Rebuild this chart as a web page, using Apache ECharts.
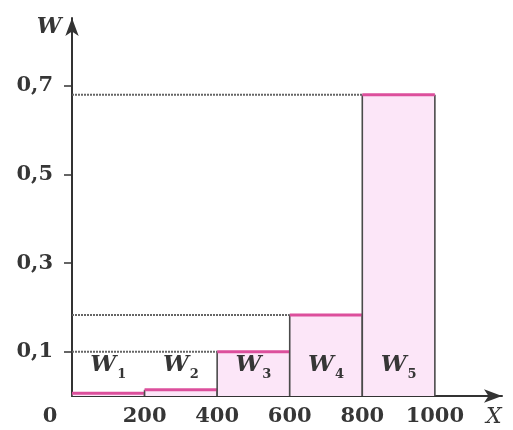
<!DOCTYPE html>
<html>
<head>
<meta charset="utf-8">
<script src="https://cdn.jsdelivr.net/npm/echarts@6/dist/echarts.min.js"></script>
<style>
  html, body { margin: 0; padding: 0; background: #fff; }
  #chart { width: 513px; height: 430px; }
</style>
</head>
<body>
<div id="chart"></div>
<script>
// histogram of relative frequencies W by interval of X
const binEdges = [0, 200, 400, 600, 800, 1000]
const freqs = [0.006, 0.014, 0.1, 0.183, 0.68]
const binNames = ['1', '2', '3', '4', '5']
const xTicks = [0, 200, 400, 600, 800, 1000]
const yTicks = [0.1, 0.3, 0.5, 0.7]

const ink = '#363636'
const serif = 'DejaVu Serif'

const bins = freqs.map((f, i) => [binEdges[i], binEdges[i + 1], f, binNames[i]])

function renderBin(params, api) {
  const x0 = api.value(0)
  const x1 = api.value(1)
  const h = api.value(2)
  const tl = api.coord([x0, h])
  const br = api.coord([x1, 0])
  const axisStart = api.coord([0, h])
  const labelPos = api.coord([(x0 + x1) / 2, 0.07])
  const children = [
    {
      type: 'rect',
      shape: { x: tl[0], y: tl[1], width: br[0] - tl[0], height: br[1] - tl[1] },
      style: { fill: '#fce6f8' }
    },
    {
      type: 'polyline',
      shape: { points: [[tl[0], br[1]], [tl[0], tl[1]]] },
      style: { stroke: '#4a4a4a', lineWidth: 1.6, fill: null }
    },
    {
      type: 'polyline',
      shape: { points: [[br[0], br[1]], [br[0], tl[1]]] },
      style: { stroke: '#4a4a4a', lineWidth: 1.6, fill: null }
    },
    {
      type: 'line',
      shape: { x1: tl[0], y1: tl[1], x2: br[0], y2: tl[1] },
      style: { stroke: '#dc4f9c', lineWidth: 3 }
    },
    {
      type: 'text',
      x: labelPos[0],
      y: labelPos[1],
      style: {
        text: '{w|W}{s|' + api.value(3) + '}',
        align: 'center',
        verticalAlign: 'middle',
        rich: {
          w: { fontFamily: serif, fontStyle: 'italic', fontWeight: 'bold', fontSize: 23, fill: ink },
          s: { fontFamily: serif, fontWeight: 'bold', fontSize: 13, fill: ink, padding: [20, 0, 0, 1] }
        }
      }
    }
  ]
  if (h >= 0.05 && x0 > 0) {
    children.push({
      type: 'line',
      shape: { x1: axisStart[0], y1: tl[1], x2: tl[0], y2: tl[1] },
      style: { stroke: '#666', lineWidth: 2, lineDash: [2, 1] }
    })
  }
  return { type: 'group', children }
}

const labelFont = { color: ink, fontFamily: serif, fontWeight: 'bold', fontSize: 21 }

const chart = echarts.init(document.getElementById('chart'))
chart.setOption({
  backgroundColor: '#fff',
  animation: false,
  grid: { left: 72, right: 11, top: 18, bottom: 34 },
  xAxis: {
    type: 'value',
    min: 0,
    max: 1185,
    name: 'X',
    nameLocation: 'end',
    nameGap: -16,
    nameTextStyle: { color: ink, fontFamily: serif, fontStyle: 'italic', fontSize: 22, verticalAlign: 'top', padding: [10, 0, 0, 0] },
    axisLine: { symbol: ['none', 'arrow'], symbolSize: [10, 18], lineStyle: { color: '#333', width: 2 } },
    axisTick: { show: false },
    splitLine: { show: false },
    axisLabel: Object.assign({
      customValues: xTicks,
      margin: 10,
      formatter: v => (v === 0 ? '{z|0}' : String(v)),
      rich: { z: Object.assign({ padding: [0, 44, 0, 0] }, labelFont) }
    }, labelFont)
  },
  yAxis: [
    {
      type: 'value',
      min: 0,
      max: 0.853,
      name: 'W',
      nameLocation: 'end',
      nameGap: -20,
      nameTextStyle: { color: ink, fontFamily: serif, fontStyle: 'italic', fontWeight: 'bold', fontSize: 22, padding: [0, 46, 0, 0] },
      axisLine: { symbol: ['none', 'arrow'], symbolSize: [10, 18], lineStyle: { color: '#333', width: 2 } },
      axisTick: { show: true, customValues: yTicks, length: 7, lineStyle: { color: '#333', width: 1.5 } },
      splitLine: { show: false },
      axisLabel: Object.assign({
        customValues: yTicks,
        margin: 19,
        formatter: v => String(v).replace('.', ',')
      }, labelFont)
    },
    {
      // mirror axis, only used for the inner half of the y ticks
      type: 'value',
      min: 0,
      max: 0.853,
      position: 'right',
      offset: -430,
      axisLine: { show: true, lineStyle: { opacity: 0 } },
      axisLabel: { show: false },
      axisTick: { show: true, inside: true, customValues: yTicks, length: 8, lineStyle: { color: '#333', width: 1.5 } },
      splitLine: { show: false }
    }
  ],
  series: [
    {
      type: 'custom',
      renderItem: renderBin,
      encode: { x: [0, 1], y: 2 },
      data: bins
    }
  ]
})
</script>
</body>
</html>
